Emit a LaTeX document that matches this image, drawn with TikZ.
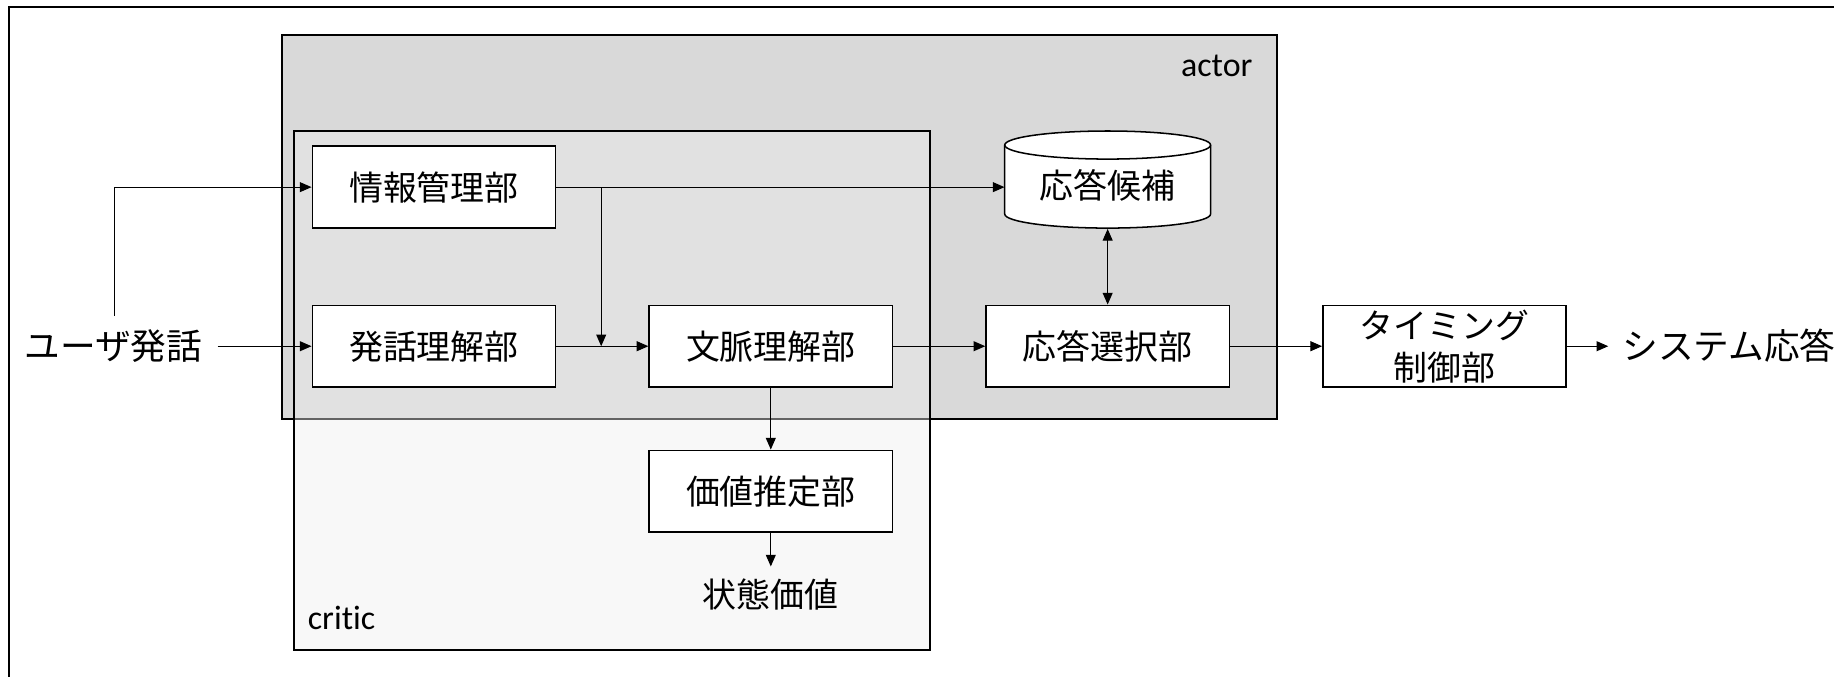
\documentclass[tikz,border=0pt]{standalone}
\usepackage{fontspec}
\setmainfont{Carlito}[Ligatures={NoCommon}]
\newfontfamily\jpfont{Noto Sans CJK JP}
\usetikzlibrary{arrows.meta}
\definecolor{actorfill}{RGB}{217,217,217}
\definecolor{criticfill}{RGB}{238,238,238}
\begin{document}
\begin{tikzpicture}[x=1pt,y=-1pt,
  jp/.style={font=\jpfont\fontsize{29}{35}\selectfont},
  box/.style={jp, draw, line width=1.3pt, fill=white, minimum width=208pt,
    minimum height=70pt, inner sep=0pt, align=center,
    text height=25.5pt, text depth=3.5pt},
  txt/.style={jp, inner sep=0pt, text height=25.5pt, text depth=3.5pt},
  bigtxt/.style={font=\jpfont\fontsize{30.5}{36}\selectfont, inner sep=0pt,
    text height=26.8pt, text depth=3.7pt},
  frame/.style={draw, line width=1.7pt},
  tip/.tip={Triangle[length=10pt,width=8.5pt]},
  arr/.style={line width=0.9pt, -tip},
  biarr/.style={line width=0.9pt, tip-tip}]
\useasboundingbox (0,0) rectangle (1568,578);
% outer frame (right and bottom edges fall outside the picture)
\draw[frame] (8,6) rectangle (1700,700);
% actor area
\draw[frame, fill=actorfill] (241,30) rectangle (1092,358);
\node[anchor=east, font=\fontsize{29}{35}\selectfont, inner sep=0pt] (actorlbl) at (1071,56) {actor};
% critic area (translucent)
\draw[frame, fill=criticfill, fill opacity=0.42] (251,112) rectangle (795,556);
\node[anchor=west, font=\fontsize{29}{35}\selectfont, inner sep=0pt] (criticlbl) at (263,528) {critic};
% nodes
\node[box] (info) at (371,160) {情報管理部};
\node[box] (nlu) at (371,296) {発話理解部};
\node[box] (ctx) at (659,296) {文脈理解部};
\node[box] (val) at (659,420) {価値推定部};
\node[box] (sel) at (947,296) {応答選択部};
\node[box, text height=, text depth=, font=\jpfont\fontsize{29}{36}\selectfont] (tim) at (1235,296) {タイミング\\制御部};
% candidate database (cylinder)
\draw[line width=1.3pt, fill=white] (859,124) -- (859,183)
  arc[start angle=180, end angle=360, x radius=88pt, y radius=12pt]
  -- (1035,124)
  arc[start angle=0, end angle=180, x radius=88pt, y radius=12pt] -- cycle;
\draw[line width=1.3pt] (859,124) arc[start angle=180, end angle=360, x radius=88pt, y radius=12pt];
\node[txt, minimum width=176pt, minimum height=73pt] (cand) at (947,159) {応答候補};
% free texts
\node[bigtxt] (user) at (97,296) {ユーザ発話};
\node[txt] (state) at (659,508) {状態価値};
\node[bigtxt, anchor=west] (sys) at (1387,296) {システム応答};
% junctions
\coordinate (ubranch) at (98,270);
\coordinate (join) at (514,296);
% connectors
\draw[arr, shorten <=13pt] (user.east) -- (nlu.west);
\draw[arr] (ubranch) |- (info.west);
\draw[arr] (info.east) -- (info.east -| cand.west);
\draw[arr] (join |- info.east) -- (join);
\draw[arr] (nlu.east) -- (ctx.west);
\draw[arr] (ctx.east) -- (sel.west);
\draw[biarr] (cand.south) -- (sel.north);
\draw[arr] (ctx.south) -- (val.north);
\draw[arr, shorten >=9pt] (val.south) -- (state.north);
\draw[arr] (sel.east) -- (tim.west);
\draw[arr, shorten >=12pt] (tim.east) -- (tim.east -| sys.west);
\end{tikzpicture}
\end{document}
